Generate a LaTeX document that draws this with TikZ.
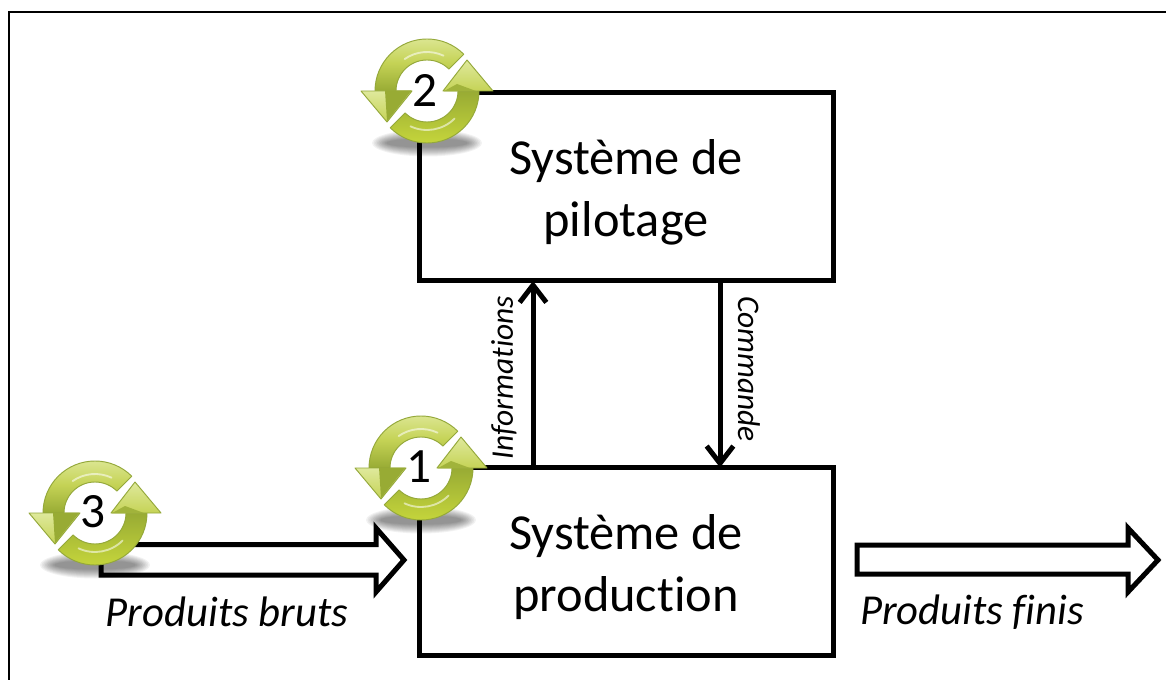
\documentclass[tikz,border=0pt]{standalone}
\usepackage{fontspec}
\setmainfont{Carlito}[Ligatures={NoCommon}]
\usetikzlibrary{arrows.meta}
\definecolor{ringedge}{HTML}{94A83A}
\definecolor{ringlight}{HTML}{DFE99C}
\definecolor{ringmid}{HTML}{C5D356}
\definecolor{ringdark}{HTML}{98AB34}
\definecolor{ringbright}{HTML}{C9D93C}
\newcommand{\firstline}{\rule{0pt}{34pt}}
\tikzset{
  box/.style={draw=black,line width=3.75pt,minimum width=310.5pt,minimum height=141pt,align=center,font=\fontsize{37.8}{46.5}\selectfont,anchor=north west,inner sep=0pt,outer sep=0pt,line join=miter},
  flow/.style={draw=black,line width=3.75pt,line join=miter,miter limit=10},
  signal/.style={draw=black,line width=3.75pt,-{Straight Barb[length=13pt,width=20pt,line width=3.75pt]}},
  caption/.style={font=\fontsize{32}{38}\selectfont\itshape,inner sep=0pt},
  vcaption/.style={font=\fontsize{23.6}{28}\selectfont\itshape,inner sep=0pt},
  numeral/.style={font=\fontsize{37}{44}\selectfont,inner sep=0pt},
  ringpart/.style={draw=ringedge,line width=.7pt,line join=round},
}
\newcommand{\cycshadow}[2]{%
  \begin{scope}[shift={(#1,#2)},x=.75pt,y=.75pt]
    \foreach \k in {0,...,9}{%
      \fill[black,fill opacity=.05] (0,-52) ellipse ({55-1.6*\k} and {13.5-1.0*\k});
    }
  \end{scope}}
\newcommand{\cycicon}[4]{%
  \begin{scope}[shift={(#1,#2)},x=.75pt,y=.75pt]
    \fill[white] (0,0) circle (31);
    % upper band
    \shade[ringpart,top color=ringlight,bottom color=ringdark,middle color=ringmid]
      (45:52) arc (45:180:52) -- (-31,0) arc (180:45:31) -- cycle;
    % lower band
    \shade[ringpart,top color=ringdark,bottom color=ringbright]
      (225:52) arc (225:360:52) -- (31,0) arc (360:225:31) -- cycle;
    % left head
    \shade[ringpart,top color=ringlight,bottom color=ringmid]
      (-66,0) -- (-15,0) -- (-40,-31) -- cycle;
    \fill[ringdark] (-42,0.5) -- (-15.5,0.5) -- (-40,-30) -- cycle;
    % right head
    \shade[ringpart,top color=ringlight,bottom color=ringmid]
      (66,0) -- (16,0) -- (40,31) -- cycle;
    \fill[ringdark!80!ringmid] (16.5,-.4) -- (50,-.4) -- (30,7) -- cycle;
    % highlights
    \draw[white,opacity=.55,line width=1.4pt,line cap=round] (65:39) arc (65:125:39);
    \draw[white,opacity=.55,line width=1.4pt,line cap=round] (245:39) arc (245:315:39);
    \node[numeral] (#4) at (-2,1) {#3};
  \end{scope}}
\begin{document}
\begin{tikzpicture}[x=.75pt,y=-.75pt]
  \useasboundingbox (0,0) rectangle (1166,680);
  \fill[white] (0,0) rectangle (1166,680);
  \coordinate (frameNW) at (9,12);
  \coordinate (frameNE) at (1170,12);
  \coordinate (frameSW) at (9,684);
  \draw[black,line width=1.8pt] (frameSW) -- (frameNW) -- (frameNE);

  \cycshadow{427}{91}
  \cycshadow{421}{468}
  \cycshadow{95}{513}

  \node[box] (pilot) at (419,93) {\firstline Système de\\pilotage};
  \node[box] (prod) at (419,467.5) {\firstline Système de\\production};

  \coordinate (infoX) at (533,0);
  \coordinate (cmdX) at (720,0);
  \draw[signal] (prod.north -| infoX) -- (pilot.south -| infoX);
  \draw[signal] (pilot.south -| cmdX) -- (prod.north -| cmdX);

  \node[vcaption,rotate=90] (infos) at (504,378) {Informations};
  \node[vcaption,rotate=-90] (cmd) at (749,369) {Commande};

  \draw[flow] (101,544.5) -- (376,544.5) -- (376,528) -- (404,560) -- (376,592) -- (376,575) -- (101,575) -- cycle;
  \draw[flow] (857,545) -- (1128,545) -- (1128,528) -- (1158,560) -- (1128,592) -- (1128,574) -- (857,574) -- cycle;
  \node[caption] (bruts) at (227,612) {Produits bruts};
  \node[caption] (finis) at (972,612) {Produits finis};

  \cycicon{427}{91}{2}{n2}
  \cycicon{421}{468}{1}{n1}
  \cycicon{95}{513}{3}{n3}
\end{tikzpicture}
\end{document}
